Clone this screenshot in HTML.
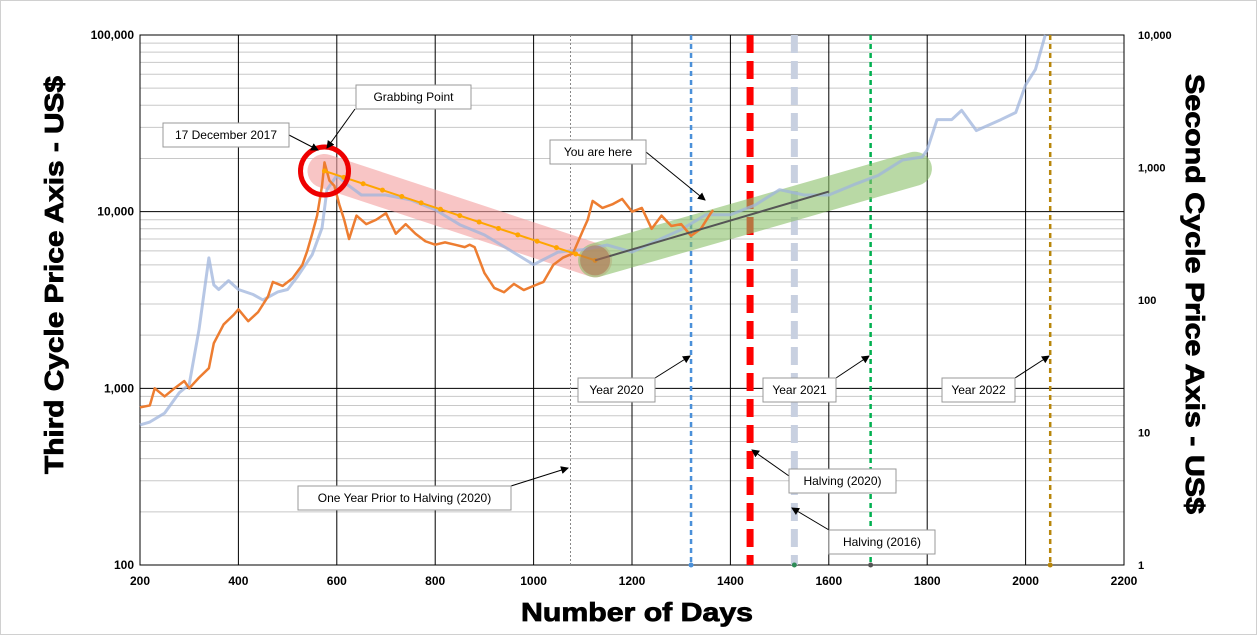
<!DOCTYPE html>
<html><head><meta charset="utf-8"><style>
body{margin:0;background:#fff;width:1257px;height:635px;overflow:hidden}
svg{font-family:"Liberation Sans",sans-serif}
</style></head><body>
<svg id="c" width="1257" height="635">
<rect x="0.5" y="0.5" width="1256" height="634" fill="#fff" stroke="#d0d0d0"/>
</svg>
<script>
const xTicks=[200,400,600,800,1000,1200,1400,1600,1800,2000,2200];
const leftTicks=[100,1000,10000,100000];
const leftTickLabels=["100","1,000","10,000","100,000"];
const rightTicks=[1,10,100,1000,10000];
const rightTickLabels=["1","10","100","1,000","10,000"];
const thirdDays=[200,220,230,250,270,290,300,320,340,350,370,390,400,420,440,460,470,490,510,530,540,550,560,570,575,585,595,605,615,625,640,660,680,700,720,740,760,780,800,820,840,860,870,880,900,920,940,960,980,1000,1020,1040,1060,1080,1100,1110,1120,1140,1160,1180,1200,1220,1240,1260,1280,1300,1320,1340,1360,1365];
const thirdPrice=[780,800,1000,900,1000,1100,1000,1150,1300,1800,2300,2600,2800,2400,2700,3300,4000,3800,4200,5000,6000,7500,9500,14000,19000,15000,14000,11000,9000,7000,9500,8500,9000,9800,7500,8500,7500,6800,6500,6700,6500,6300,6500,6300,4500,3700,3500,3900,3600,3800,4000,5000,5500,5800,7800,9000,11500,10500,11000,11800,10000,10500,8000,9500,8300,8500,7300,8000,9800,10200];
const secondDays=[200,220,250,280,300,320,340,350,360,380,400,430,450,480,500,520,550,570,580,600,620,650,700,750,800,850,900,950,1000,1050,1100,1150,1200,1250,1300,1350,1400,1450,1500,1550,1600,1650,1700,1750,1790,1800,1820,1850,1870,1900,1950,1980,2000,2020,2040];
const secondPrice=[11.4,12,14,20,23,60,208,130,120,140,120,110,100,115,120,150,220,350,680,870,750,620,620,570,480,370,310,240,185,230,240,260,230,280,340,440,440,520,680,620,620,740,870,1140,1200,1360,2300,2300,2700,1900,2300,2600,4200,5500,10000];
const redTrendDays=[575,1125];const redTrendPrice=[17000,5300];
const greenTrendDays=[1125,1775];const greenTrendPrice=[5300,17500];
const grayTrendDays=[1125,1600];const grayTrendPrice=[5300,13000];

const X0=140,X1=1124,YT=35,YB=565;
const xs=d=>X0+(d-200)/2000*(X1-X0);
const yl=v=>YB-(Math.log10(v)-2)/3*(YB-YT);
const yr=v=>YB-Math.log10(v)/4*(YB-YT);
const svg=document.getElementById('c');const NS='http://www.w3.org/2000/svg';
function mk(t,a,p){const e=document.createElementNS(NS,t);for(const k in a)e.setAttribute(k,a[k]);(p||svg).appendChild(e);return e;}
for(let d=2;d<5;d++)for(let m=2;m<10;m++){const y=yl(m*Math.pow(10,d));
const g=mk('line',{x1:X0,x2:X1,y1:y,y2:y,stroke:'#c8c8c8','stroke-width':1});

}
leftTicks.forEach((v,i)=>{const y=yl(v);
const g=mk('line',{x1:X0,x2:X1,y1:y,y2:y,stroke:'#000','stroke-width':1});


const t=mk('text',{x:X0-6,y:y+4,'text-anchor':'end','font-size':12,'font-weight':'bold'});t.textContent=leftTickLabels[i];

});
rightTicks.forEach((v,i)=>{const t=mk('text',{x:X1+14,y:yr(v)+4,'font-size':11,'font-weight':'bold'});t.textContent=rightTickLabels[i];

});
xTicks.forEach(v=>{const x=xs(v);
const g=mk('line',{x1:x,x2:x,y1:YT,y2:YB,stroke:'#000','stroke-width':1});


const t=mk('text',{x:x,y:YB+20,'text-anchor':'middle','font-size':12,'font-weight':'bold'});t.textContent=v;

});
const fr=mk('rect',{x:X0,y:YT,width:X1-X0,height:YB-YT,fill:'none',stroke:'#000'});


function vl(d,col,w,dash,name){const e=mk('line',{x1:xs(d),x2:xs(d),y1:YT,y2:YB,stroke:col,'stroke-width':w,'stroke-dasharray':dash});

}
vl(1075,'#888',1,'2,2','one-year-prior-line');
vl(1320,'#4a90d9',2.5,'5,4','year-2020-line');
vl(1440,'#ff0000',7,'18,8','halving-2020-line');
vl(1530,'#c8d0e0',7,'18,8','halving-2016-line');
vl(1685,'#00b050',2.5,'5,4','year-2021-line');
vl(2050,'#b8860b',2.5,'5,4','year-2022-line');
function band(dd,pp,col,name){const e=mk('line',{x1:xs(dd[0]),y1:yl(pp[0]),x2:xs(dd[1]),y2:yl(pp[1]),stroke:col,'stroke-width':34,'stroke-linecap':'round','opacity':0.6});

}
band(redTrendDays,redTrendPrice,'#f4a0a0','red-trend-band');
band(greenTrendDays,greenTrendPrice,'#8cc06a','green-trend-band');
function pl(dd,pp,f,col,w,name,op){const e=mk('polyline',{points:dd.map((d,i)=>xs(d)+','+f(pp[i])).join(' '),fill:'none',stroke:col,'stroke-width':w,'stroke-linejoin':'round',opacity:op||1});

}
pl(secondDays,secondPrice,yr,'#9fb4dc',3,'second-cycle-line',0.75);
pl(thirdDays,thirdPrice,yl,'#ed7d31',2.5,'third-cycle-line');
pl(redTrendDays,redTrendPrice,yl,'#ffa500',2,'orange-trend-line');
for(let i=0;i<=14;i++){const d=redTrendDays[0]+(redTrendDays[1]-redTrendDays[0])*i/14;const p=Math.pow(10,Math.log10(redTrendPrice[0])+(Math.log10(redTrendPrice[1])-Math.log10(redTrendPrice[0]))*i/14);
const c=mk('circle',{cx:xs(d),cy:yl(p),r:2.5,fill:'#ffa500'});

}
pl(grayTrendDays,grayTrendPrice,yl,'#555',2,'gray-trend-line');
const rc=mk('circle',{cx:xs(575),cy:yl(17000),r:24,fill:'none',stroke:'#ee0000','stroke-width':5});


const bc=mk('circle',{cx:xs(1125),cy:yl(5300),r:15,fill:'#b07050',opacity:0.55});


function note(txt,bx,by,bw,ax1,ay1,ax2,ay2,name){
const l=mk('line',{x1:ax1,y1:ay1,x2:ax2,y2:ay2,stroke:'#000','stroke-width':1,'marker-end':'url(#ah)'});


const r=mk('rect',{x:bx,y:by,width:bw,height:24,fill:'#fff',stroke:'#999'});


const t=mk('text',{x:bx+bw/2,y:by+16,'text-anchor':'middle','font-size':12});t.textContent=txt;

}
const defs=mk('defs',{});const m=mk('marker',{id:'ah',markerWidth:8,markerHeight:8,refX:7,refY:4,orient:'auto'},defs);mk('path',{d:'M0,0L8,4L0,8z',fill:'#000'},m);
note('Grabbing Point',356,85,115,355,109,327,148,'grabbing-point');
note('17 December 2017',163,123,126,289,135,318,150,'december-2017');
note('You are here',550,140,96,646,152,705,200,'you-are-here');
note('Year 2020',578,378,77,655,378,690,356,'year-2020');
note('Year 2021',763,378,73,836,378,869,356,'year-2021');
note('Year 2022',942,378,73,1015,378,1049,356,'year-2022');
note('One Year Prior to Halving (2020)',298,486,213,511,486,568,468,'one-year-prior');
note('Halving (2020)',789,469,107,789,476,752,450,'halving-2020');
note('Halving (2016)',829,530,106,829,530,792,508,'halving-2016');
[[xs(1530),'#2e8b57'],[xs(1685),'#555'],[xs(1320),'#4a90d9'],[xs(2050),'#b8860b']].forEach(a=>{const c=mk('circle',{cx:a[0],cy:YB,r:2.5,fill:a[1]});

});
const xt=mk('text',{x:637,y:621,'text-anchor':'middle','font-size':26,'font-weight':'bold','stroke':'#000','stroke-width':0.8,textLength:232,lengthAdjust:'spacingAndGlyphs'});xt.textContent='Number of Days';


const lt=mk('text',{x:0,y:0,'text-anchor':'middle','font-size':26,'font-weight':'bold','stroke':'#000','stroke-width':0.8,textLength:398,lengthAdjust:'spacingAndGlyphs',transform:'translate(63,275) rotate(-90)'});lt.textContent='Third Cycle Price Axis - US$';


const rt=mk('text',{x:0,y:0,'text-anchor':'middle','font-size':26,'font-weight':'bold','stroke':'#000','stroke-width':0.8,textLength:440,lengthAdjust:'spacingAndGlyphs',transform:'translate(1186,294) rotate(90)'});rt.textContent='Second Cycle Price Axis - US$';


</script>
</body></html>
